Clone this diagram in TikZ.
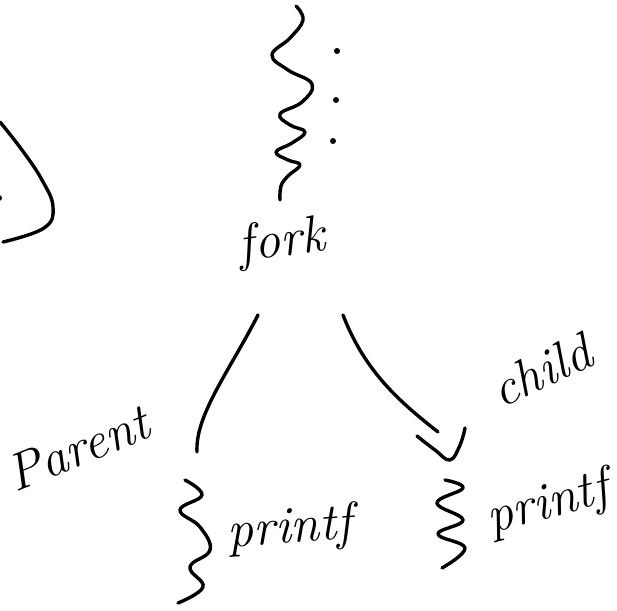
\documentclass[tikz,border=0pt]{standalone}
\usepackage{tikz}
\usetikzlibrary{calc}
\usetikzlibrary{positioning}
\begin{document}
\begin{tikzpicture}[x=1pt,y=-1pt,line width=3.4pt,line cap=round,line join=round]
	\tikzstyle{word}=[inner sep=0pt, font=\fontsize{52}{56}\selectfont\itshape]
	\tikzstyle{squig}=[smooth, tension=0.7]
	\useasboundingbox (0,0) rectangle (617,610);

	% the process before the call
	\draw plot[squig] coordinates {(296,6) (303,20) (290,38) (272,55) (288,70) (312,84) (302,102) (280,114) (290,125) (305,132) (292,143) (276,152) (288,160) (300,165) (288,176) (281,186) (280,200)};
	\fill (337,51) circle (3pt);
	\fill (336,100) circle (3pt);
	\fill (333,141) circle (3pt);

	% bracket on the far left
	\draw plot[squig] coordinates {(0,122) (22,150) (42,180) (53,207) (44,228) (3,242)};
	\fill (-1,198) circle (3pt);

	\node[word, rotate=8] (F) at (282,243) {fork};
	\node[word, rotate=22] (P) at (78,448) {Parent};
	\node[word, rotate=25] (C) at (541,370) {child};
	\node[word, rotate=4] (P1) at (290,530) {printf};
	\node[word, rotate=15] (P2) at (548,505) {printf};

	\coordinate (l1) at (258,315);
	\coordinate (l2) at (197,452);
	\coordinate (r1) at (343,315);
	\coordinate (r2) at (438,432);

	% the two branches
	\draw (l1) .. controls (230,370) and (195,415) .. (l2);
	\draw (r1) .. controls (365,372) and (400,402) .. (r2);
	\draw plot[squig] coordinates {(417,436) (435,450) (450,460) (460,445) (465,428)};

	% parent and child after the call
	\draw plot[squig] coordinates {(185,480) (202,495) (180,510) (200,527) (210,550) (190,567) (203,587) (178,603)};
	\draw plot[squig] coordinates {(445,480) (463,488) (437,503) (463,520) (438,534) (465,548) (442,568)};
\end{tikzpicture}
\end{document}
